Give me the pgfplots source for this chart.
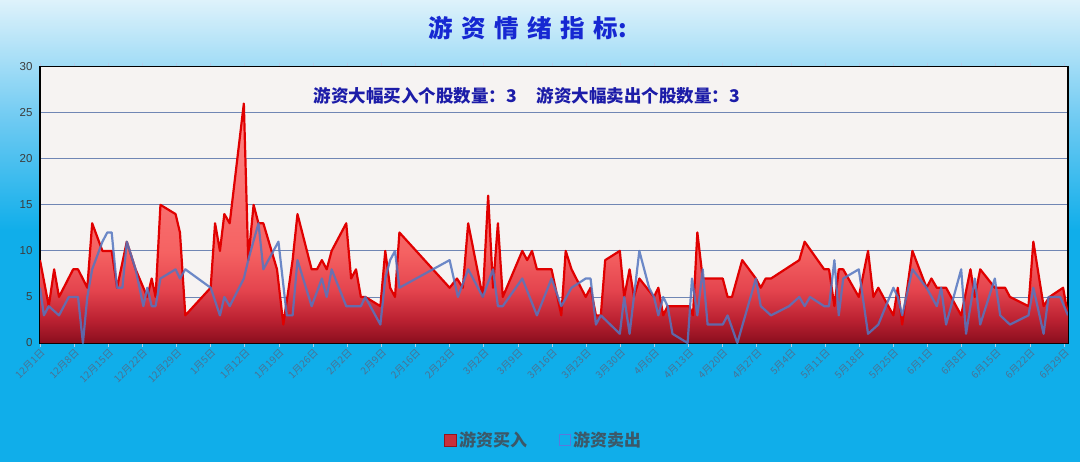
\documentclass[border=0pt]{standalone}
\usepackage{fontspec}
\setmainfont{Liberation Sans}
\newfontfamily\cjk{Noto Sans CJK SC}
\usepackage{pgfplots}
\pgfplotsset{compat=1.18}
\usepackage{pgfplotstable}

\definecolor{bgT}{RGB}{222,242,251}
\definecolor{bgM}{RGB}{110,202,242}
\definecolor{bgB}{RGB}{16,174,234}
\definecolor{plotbg}{RGB}{246,243,242}
\definecolor{gridc}{RGB}{112,134,180}
\definecolor{r0}{RGB}{138,14,30}
\definecolor{r1}{RGB}{188,34,50}
\definecolor{r2}{RGB}{228,68,78}
\definecolor{r3}{RGB}{245,98,98}
\definecolor{r4}{RGB}{255,138,138}
\definecolor{redline}{RGB}{224,0,0}
\definecolor{blueline}{RGB}{84,118,192}
\definecolor{titleblue}{RGB}{22,40,210}
\definecolor{navy}{RGB}{28,28,168}
\definecolor{xlab}{RGB}{74,114,148}
\definecolor{ylab}{RGB}{60,60,60}
\definecolor{tickc}{RGB}{180,205,235}
\definecolor{legtext}{RGB}{60,88,104}
\definecolor{legred}{RGB}{200,48,60}
\definecolor{legredd}{RGB}{150,20,30}
\definecolor{legblue}{RGB}{90,120,220}

\pgfdeclareverticalshading{bgshade}{100bp}{color(0bp)=(bgB); color(25bp)=(bgB); color(50bp)=(bgB); color(62bp)=(bgM); color(75bp)=(bgT); color(100bp)=(bgT)}
\pgfdeclareverticalshading{redshade}{100bp}{color(0bp)=(r0); color(25bp)=(r0); color(30bp)=(r1); color(36bp)=(r2); color(44bp)=(r3); color(75bp)=(r4); color(100bp)=(r4)}

\pgfplotstableread{
x y
0 9
1.8 4
2.9 8
3.9 5
6.8 8
7.8 8
9.7 6
10.7 13
12.8 10
13.8 10
14.7 10
15.8 6
17.8 11
19.6 8
21.2 6
22 5
22.9 7
23.7 5
24.7 15
27.8 14
28.7 12
29.8 3
35 6
35.9 13
36.9 10
37.8 14
38.9 13
41.8 26
42.7 9
43.8 15
44.8 13
45.8 13
48.6 8
49.9 2
51 6
51.8 9
52.8 14
55.7 8
56.8 8
57.8 9
58.8 8
59.8 10
62.8 13
63.8 7
64.8 8
65.8 5
66.7 5
69.8 4
70.8 10
71.8 6
72.8 5
73.7 12
84 6
85.5 7
86.7 6
87.8 13
90.8 5
91.9 16
92.9 6
93.9 13
94.9 5
98.9 10
99.9 9
100.9 10
101.9 8
104.9 8
106.9 3
107.8 10
109 8
111.9 5
112.9 6
114 3
115 3
115.9 9
118.9 10
119.8 5
120.9 8
121.8 5
122.9 7
125.9 5
126.8 6
127.8 3
128.7 4
133.1 4
133.9 3
134.8 12
135.9 7
140 7
141 5
141.9 5
144 9
146.8 7
147.8 6
148.8 7
149.9 7
155.7 9
156.8 11
160.8 8
161.8 8
162.9 4
163.8 8
164.7 8
167.9 5
169.8 10
170.9 5
171.9 6
175 3
175.9 6
176.8 2
178.9 10
181.8 6
182.8 7
183.9 6
185.8 6
188.9 3
190.8 8
191.7 5
192.8 8
195.8 6
197.9 6
198.9 5
202.7 4
203.7 11
205.8 4
207 5
209.8 6
210.8 3
}\buy

\pgfplotstableread{
x y
0 6
0.8 3
1.8 4
3.9 3
5.9 5
7.8 5
8.8 0
9.7 5
10.7 8
12.8 11
13.8 12
14.7 12
15.8 6
16.9 6
17.8 11
19.6 8
21.2 4
22 6
22.9 4
23.7 4
24.7 7
27.8 8
28.7 7
29.8 8
35 6
36.9 3
37.8 5
38.9 4
41.8 7
42.7 9
44.8 13
45.8 8
48.9 11
50.6 3
51.8 3
52.8 9
55.7 4
57.8 7
58.8 5
59.8 8
62.8 4
63.8 4
65.8 4
66.7 5
69.8 2
70.8 7
71.8 9
72.8 10
73.7 6
84 9
85.7 5
87.8 8
90.8 5
92.9 8
93.9 4
94.9 4
98.9 7
101.9 3
104.9 7
106.9 4
109 6
111.9 7
112.9 7
114 2
115 3
118.9 1
119.8 5
120.9 1
122.9 10
124.9 6
125.9 5
126.8 3
127.8 5
128.7 4
129.7 1
132.8 0
133.7 7
134.8 3
135.9 8
136.9 2
140 2
141 3
143 0
146.8 7
147.8 4
149.9 3
153.6 4
155.7 5
156.8 4
157.9 5
160.8 4
161.8 4
162.9 9
163.8 3
164.7 7
167.9 8
169.8 1
171.9 2
175 6
175.9 5
176.8 3
178.9 8
181.8 6
183.9 4
184.8 6
185.8 2
188.9 8
189.9 1
191.7 7
192.8 2
195.8 7
196.9 3
198.9 2
202.7 3
203.7 6
205.8 1
206.8 5
209.2 5
210.8 3
}\sell

\begin{document}
\begin{tikzpicture}
\shade[shading=bgshade] (-40pt,-118pt) rectangle (1040pt,343pt);
\begin{axis}[
  scale only axis,
  width=1028pt, height=276.3pt,
  xmin=0, xmax=210.8, ymin=0, ymax=30,
  ytick={0,5,...,30},
  xtick={0,7,...,210},
  xticklabels={12月1日,12月8日,12月15日,12月22日,12月29日,1月5日,1月12日,1月19日,1月26日,2月2日,2月9日,2月16日,2月23日,3月2日,3月9日,3月16日,3月23日,3月30日,4月6日,4月13日,4月20日,4月27日,5月4日,5月11日,5月18日,5月25日,6月1日,6月8日,6月15日,6月22日,6月29日},
  x tick label style={font=\cjk\fontsize{10}{10}\selectfont, rotate=45, anchor=north east, text=xlab, inner sep=0.5pt},
  y tick label style={font=\fontsize{11.5}{11.5}\selectfont, text=ylab},
  /pgf/number format/assume math mode=true,
  ymajorgrids,
  grid style={draw=gridc, line width=0.9pt},
  axis background/.style={fill=plotbg},
  axis line style={draw=black, line width=1.2pt},
  tick align=outside,
  major tick length=4pt,
  ytick style={draw=none},
  xtick style={draw=tickc, line width=0.8pt},
  legend style={at={(0.49,-0.352)}, anchor=center, draw=none, fill=none,
    legend columns=2, font=\cjk\bfseries\fontsize{17}{17}\selectfont, text=legtext,
    /tikz/every even column/.append style={column sep=30pt}},
  legend cell align=left,
  clip=true,
]
\addplot[draw=none, shading=redshade, forget plot] table[x=x,y=y] {\buy} \closedcycle;
\addplot[draw=redline, line width=2.2pt, line join=round, forget plot] table[x=x,y=y] {\buy};
\addplot[draw=blueline, line width=2.2pt, line join=round, opacity=0.85, forget plot] table[x=x,y=y] {\sell};
\addlegendimage{legend image code/.code={\draw[fill=legred, draw=legredd, line width=0.8pt] (0pt,-6pt) rectangle (12pt,6pt);}}
\addlegendentry{游资买入}
\addlegendimage{legend image code/.code={\draw[draw=legblue, line width=1.1pt] (0pt,-5.5pt) rectangle (11pt,5.5pt);}}
\addlegendentry{游资卖出}
\end{axis}
\node[font=\cjk\bfseries\fontsize{24.5}{24.5}\selectfont, text=titleblue] at (488pt,315pt) {游\hspace{8.5pt}资\hspace{8.5pt}情\hspace{8.5pt}绪\hspace{8.5pt}指\hspace{8.5pt}标:};
\node[font=\cjk\bfseries\fontsize{17.5}{17.5}\selectfont, text=navy] at (487pt,247pt) {游资大幅买入个股数量：3\hspace{20pt}游资大幅卖出个股数量：3};
\pgfresetboundingbox
\useasboundingbox (-40pt,-118pt) rectangle (1040pt,343pt);
\end{tikzpicture}
\end{document}
